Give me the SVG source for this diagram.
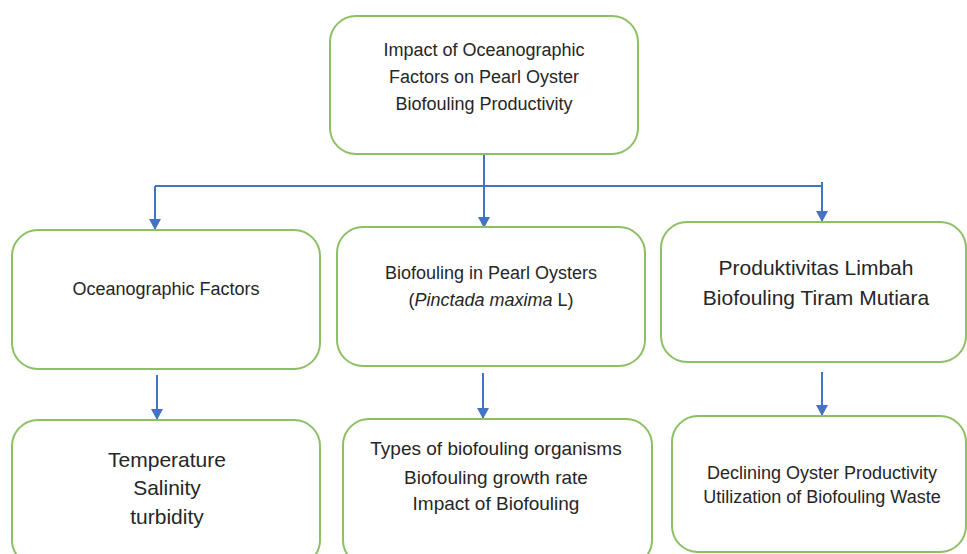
<svg xmlns="http://www.w3.org/2000/svg" width="967" height="554" viewBox="0 0 967 554">
<style>
.box{fill:#fff;stroke:#8cc063;stroke-width:2}
.t{font-family:"Liberation Sans",Arial,sans-serif;fill:#262626;text-anchor:middle}
.s18{font-size:18px}
.s19{font-size:19px}
.s21{font-size:21px}
.c{fill:none;stroke:#4472c4;stroke-width:2}
</style>
<defs>
<marker id="ah" markerUnits="userSpaceOnUse" markerWidth="12" markerHeight="12" refX="11" refY="6" orient="auto" viewBox="0 0 12 12">
<path d="M0,0 L11,6 L0,12 Z" fill="#4472c4"/>
</marker>
</defs>
<rect width="967" height="554" fill="#fff"/>
<g id="connectors">
<path class="c" d="M484,154 V228" marker-end="url(#ah)"/>
<path class="c" d="M155,186 H822"/>
<path class="c" d="M155,186 V230" marker-end="url(#ah)"/>
<path class="c" d="M822,182 V222" marker-end="url(#ah)"/>
<path class="c" d="M157,375 V420" marker-end="url(#ah)"/>
<path class="c" d="M483,373 V419" marker-end="url(#ah)"/>
<path class="c" d="M822,372 V416" marker-end="url(#ah)"/>
</g>
<g id="top">
<rect class="box" x="330" y="16" width="308" height="138" rx="26"/>
<text class="t s18" x="484" y="56">Impact of Oceanographic</text>
<text class="t s18" x="484" y="83">Factors on Pearl Oyster</text>
<text class="t s18" x="484" y="110">Biofouling Productivity</text>
</g>
<g id="oceanographic">
<rect class="box" x="12" y="230" width="308" height="139" rx="26"/>
<text class="t s18" x="166" y="295">Oceanographic Factors</text>
</g>
<g id="biofouling">
<rect class="box" x="337" y="227" width="308" height="139" rx="26"/>
<text class="t s18" x="491" y="279">Biofouling in Pearl Oysters</text>
<text class="t s18" x="491" y="306">(<tspan font-style="italic">Pinctada maxima</tspan> L)</text>
</g>
<g id="produktivitas">
<rect class="box" x="661" y="222" width="305" height="140" rx="26"/>
<text class="t s21" x="816" y="275">Produktivitas Limbah</text>
<text class="t s21" x="816" y="305">Biofouling Tiram Mutiara</text>
</g>
<g id="params">
<rect class="box" x="12" y="420" width="308" height="146" rx="26"/>
<text class="t s21" x="167" y="467">Temperature</text>
<text class="t s21" x="167" y="495">Salinity</text>
<text class="t s21" x="167" y="524">turbidity</text>
</g>
<g id="types">
<rect class="box" x="343" y="419" width="309" height="147" rx="26"/>
<text class="t s19" x="496" y="455">Types of biofouling organisms</text>
<text class="t s19" x="496" y="484">Biofouling growth rate</text>
<text class="t s19" x="496" y="510">Impact of Biofouling</text>
</g>
<g id="declining">
<rect class="box" x="672" y="416" width="294" height="136" rx="26"/>
<text class="t s18" x="822" y="479">Declining Oyster Productivity</text>
<text class="t s18" x="822" y="503">Utilization of Biofouling Waste</text>
</g>
</svg>
